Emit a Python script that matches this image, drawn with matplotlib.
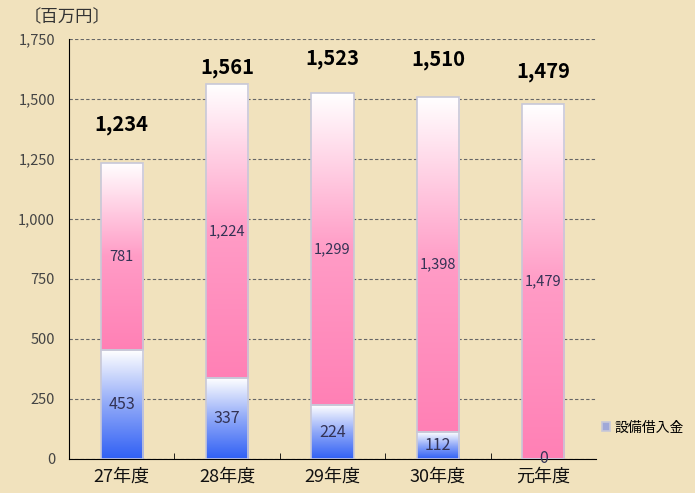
import numpy as np
import matplotlib
matplotlib.use('Agg')
import matplotlib.pyplot as plt
from matplotlib.colors import LinearSegmentedColormap

plt.rcParams['font.family'] = ['Noto Sans CJK JP', 'DejaVu Sans']

years = ['27年度', '28年度', '29年度', '30年度', '元年度']
loans = [453, 337, 224, 112, 0]          # 設備借入金
others = [781, 1224, 1299, 1398, 1479]
totals = [1234, 1561, 1523, 1510, 1479]
label_offsets = [38, 17, 35, 37, 32]     # px above bar top for totals

bg = '#f1e2bd'
fig = plt.figure(figsize=(6.95, 4.93), dpi=100, facecolor=bg)
ax = fig.add_axes([0.0993, 0.069, 0.7583, 0.852])
ax.set_facecolor(bg)

x = np.arange(len(years))
w = 0.4
blue_cm = LinearSegmentedColormap.from_list('b', ['#3060f5', '#8fa8f8', '#ffffff'])
pink_cm = LinearSegmentedColormap.from_list('p', ['#ff80b5', '#ff9cc6', '#ffffff'])
grad = np.linspace(0, 1, 256).reshape(-1, 1)

b1 = ax.bar(x, loans, w, color='none', edgecolor='#c8c8d8', linewidth=1.2, zorder=3, label='設備借入金')
b2 = ax.bar(x, others, w, bottom=loans, color='none', edgecolor='#c8c8d8', linewidth=1.2, zorder=3)

for bars, cm in [(b1, blue_cm), (b2, pink_cm)]:
    for p in bars:
        x0, y0 = p.get_x(), p.get_y()
        if p.get_height() <= 0:
            continue
        im = ax.imshow(grad, cmap=cm, origin='lower', aspect='auto',
                       extent=[x0, x0 + p.get_width(), y0, y0 + p.get_height()], zorder=2)
        im.set_clip_path(p)

for i in range(len(years)):
    ax.text(x[i], loans[i] / 2, f'{loans[i]:,}', ha='center', va='center',
            fontsize=11.5, color='#333355', zorder=4)
    ax.text(x[i], loans[i] + others[i] / 2, f'{others[i]:,}', ha='center', va='center',
            fontsize=10.5, color='#333355', zorder=4)
    ax.annotate(f'{totals[i]:,}', (x[i], totals[i]), xytext=(0, label_offsets[i] * 0.72),
                textcoords='offset points', ha='center', va='center',
                fontsize=14.5, fontweight='bold', color='black', zorder=4)

ax.set_xlim(-0.5, len(years) - 0.5)
ax.set_ylim(0, 1750)
ax.set_yticks(np.arange(0, 1751, 250))
ax.set_yticklabels([f'{v:,}' for v in range(0, 1751, 250)], fontsize=10.5, color='#444444')
ax.yaxis.grid(True, linestyle=(0, (3, 2)), color='#666666', linewidth=0.8, zorder=1)
ax.set_axisbelow(True)
ax.tick_params(axis='y', length=0, pad=10)

ax.set_xticks(x)
ax.set_xticklabels(years, fontsize=13, color='#111111')
ax.set_xticks(np.arange(0.5, len(years) - 1, 1), minor=True)
ax.tick_params(axis='x', which='major', length=0, pad=6)
ax.tick_params(axis='x', which='minor', direction='in', length=4, color='black')

for s in ['top', 'right']:
    ax.spines[s].set_visible(False)
ax.spines['left'].set_color('black')
ax.spines['bottom'].set_color('black')

fig.text(24 / 695, 1 - 17 / 493, '〔百万円〕', fontsize=12.5, color='#333333', va='center')

leg = ax.legend(handles=[b1], loc='center left', bbox_to_anchor=(1.0, 0.075),
                frameon=False, fontsize=10, handlelength=0.6, handleheight=0.6,
                handletextpad=0.3, borderaxespad=0)
leg.legend_handles[0].set_facecolor('#a0a8d8')

fig.savefig('out.png', dpi=100, facecolor=bg)
